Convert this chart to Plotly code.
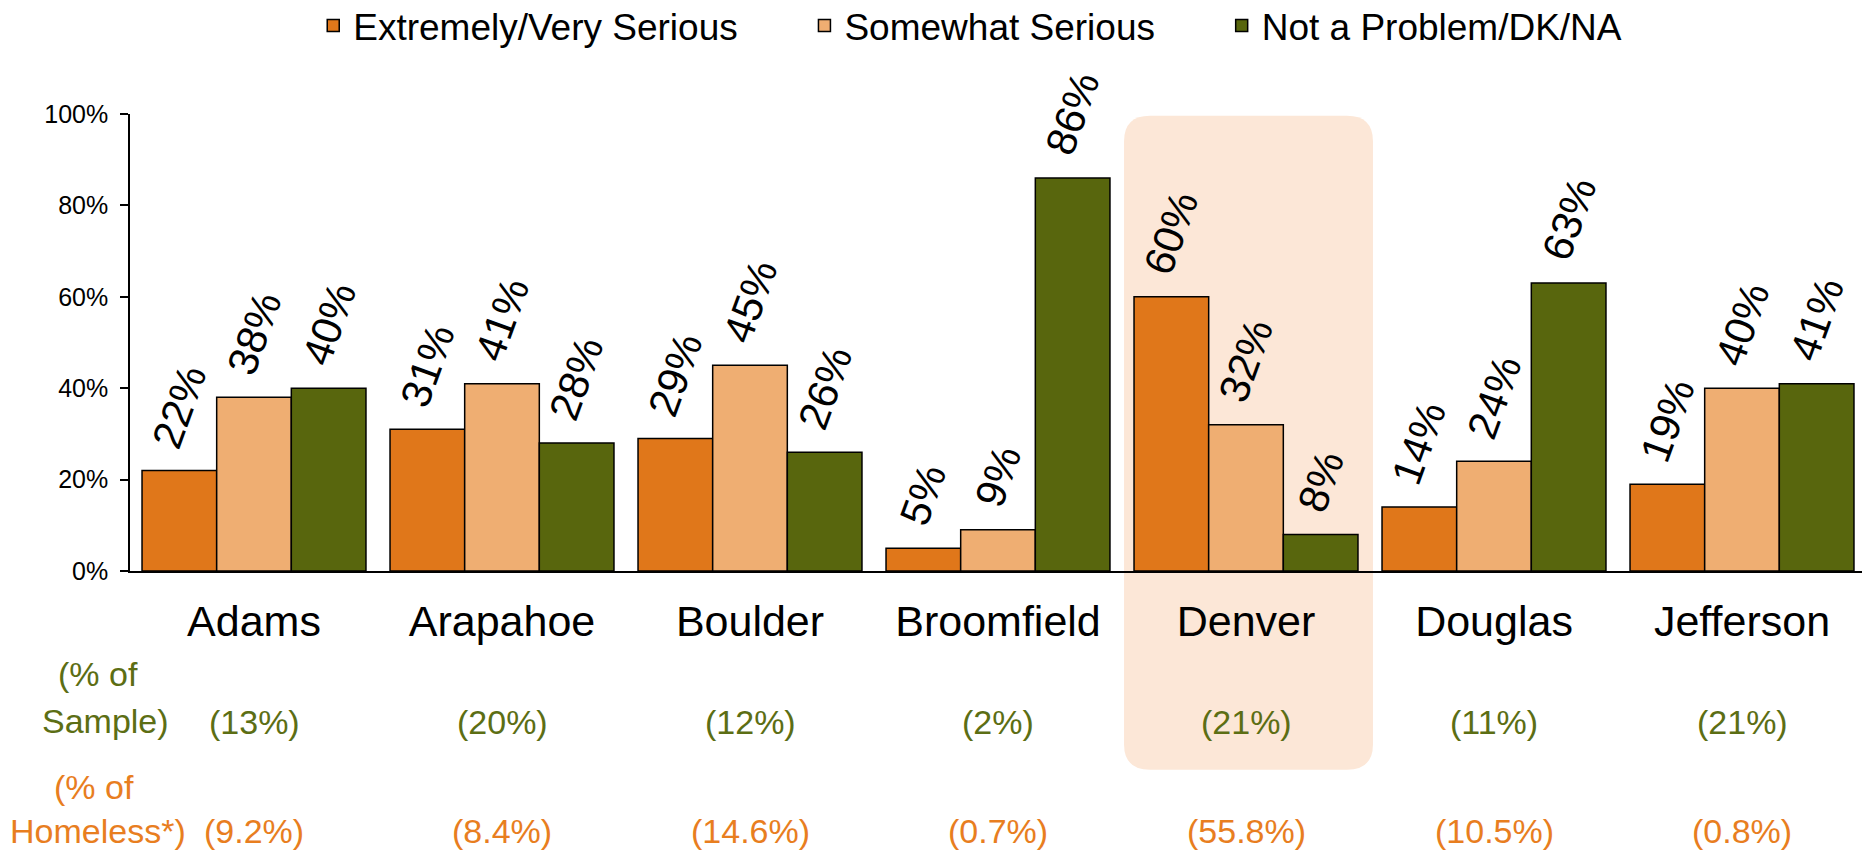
import plotly.graph_objects as go

counties = ["Adams", "Arapahoe", "Boulder", "Broomfield", "Denver", "Douglas", "Jefferson"]
extremely_serious = [22, 31, 29, 5, 60, 14, 19]
somewhat_serious = [38, 41, 45, 9, 32, 24, 40]
not_a_problem = [40, 28, 26, 86, 8, 63, 41]
pct_sample = ["(13%)", "(20%)", "(12%)", "(2%)", "(21%)", "(11%)", "(21%)"]
pct_homeless = ["(9.2%)", "(8.4%)", "(14.6%)", "(0.7%)", "(55.8%)", "(10.5%)", "(0.8%)"]
y_ticks = [0, 20, 40, 60, 80, 100]
y_tick_labels = ["0%", "20%", "40%", "60%", "80%", "100%"]

series = [
    ("Extremely/Very Serious", extremely_serious, "#E0771A"),
    ("Somewhat Serious", somewhat_serious, "#EFAE72"),
    ("Not a Problem/DK/NA", not_a_problem, "#58660D"),
]

FONT = "Liberation Sans, Arial, sans-serif"
GREEN_TXT = "#5C6E14"
ORANGE_TXT = "#E87E1F"
BARGAP = 0.097
NBSP = "\u00a0"
legend_pad = [6, 6, 0]

fig = go.Figure()
for (name, vals, col), pad in zip(series, legend_pad):
    fig.add_trace(go.Bar(
        x=counties, y=vals, name=name + NBSP * pad,
        marker=dict(color=col, line=dict(color="black", width=1.5)),
    ))

annotations = []
n = len(series)
bw = (1 - BARGAP) / n
for si, (name, vals, col) in enumerate(series):
    off = (si - (n - 1) / 2) * bw
    for ci, v in enumerate(vals):
        annotations.append(dict(
            x=ci + off, y=v, xref="x", yref="y", text=f"{v}%",
            textangle=-70, showarrow=False, xanchor="center", yanchor="bottom",
            yshift=14, font=dict(family=FONT, size=42, color="black"),
        ))

for ci in range(len(counties)):
    annotations.append(dict(
        x=ci, y=-0.330, xref="x", yref="paper", text=pct_sample[ci], showarrow=False,
        xanchor="center", yanchor="middle", font=dict(family=FONT, size=34, color=GREEN_TXT),
    ))
    annotations.append(dict(
        x=ci, y=-0.569, xref="x", yref="paper", text=pct_homeless[ci], showarrow=False,
        xanchor="center", yanchor="middle", font=dict(family=FONT, size=34, color=ORANGE_TXT),
    ))

side_labels = [("(% of", -0.226, GREEN_TXT, -0.0185), ("Sample)", -0.328, GREEN_TXT, -0.0140),
               ("(% of", -0.472, ORANGE_TXT, -0.0210), ("Homeless*)", -0.569, ORANGE_TXT, -0.0185)]
for txt, yy, col, xx in side_labels:
    annotations.append(dict(
        x=xx, y=yy, xref="paper", yref="paper", text=txt, showarrow=False,
        xanchor="center", yanchor="middle", font=dict(family=FONT, size=34, color=col),
    ))

# rounded highlight box behind Denver
x0, x1, y0, y1 = 0.5726, 0.7160, -0.435, 0.996
rx, ry = 0.0150, 0.0560
path = (f"M{x0+rx},{y1} L{x1-rx},{y1} Q{x1},{y1} {x1},{y1-ry} "
        f"L{x1},{y0+ry} Q{x1},{y0} {x1-rx},{y0} L{x0+rx},{y0} "
        f"Q{x0},{y0} {x0},{y0+ry} L{x0},{y1-ry} Q{x0},{y1} {x0+rx},{y1} Z")

fig.update_layout(
    width=1862, height=842,
    margin=dict(l=122, r=4, t=106, b=279, pad=0, autoexpand=False),
    paper_bgcolor="white", plot_bgcolor="rgba(0,0,0,0)",
    font=dict(family=FONT, color="black"),
    barmode="group", bargap=BARGAP, bargroupgap=0,
    shapes=[dict(type="path", path=path, xref="paper", yref="paper",
                 fillcolor="#FCE7D7", line=dict(width=0), layer="below")],
    annotations=annotations,
    legend=dict(orientation="h", x=0.484, xanchor="center", yref="paper", y=1.1926,
                yanchor="middle", font=dict(family=FONT, size=37, color="black"),
                bgcolor="rgba(0,0,0,0)", traceorder="normal"),
    xaxis=dict(showline=True, linecolor="black", linewidth=2, ticks="", showgrid=False,
               zeroline=False, tickfont=dict(family=FONT, size=43, color="black"),
               ticklabelstandoff=11, range=[-0.5, len(counties) - 0.5]),
    yaxis=dict(range=[0, 100], tickvals=y_ticks, ticktext=y_tick_labels, showline=True,
               linecolor="black", linewidth=1.5, ticks="outside", ticklen=8, tickwidth=1.5,
               tickcolor="black", showgrid=False, zeroline=False, ticklabelstandoff=7,
               tickfont=dict(family=FONT, size=25, color="black")),
)

fig.write_html("out.html")
